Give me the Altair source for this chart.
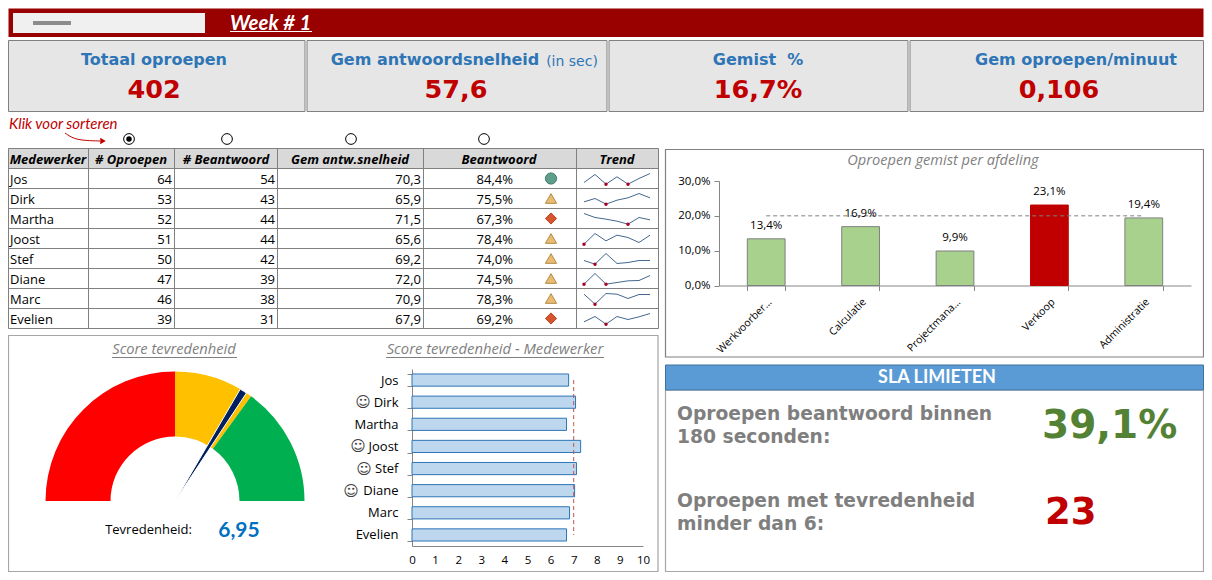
import math
import altair as alt
import pandas as pd

# ---------- data ----------
names = ["Jos", "Dirk", "Martha", "Joost", "Stef", "Diane", "Marc", "Evelien"]
calls = [64, 53, 52, 51, 50, 47, 46, 39]
answered = [54, 43, 44, 44, 42, 39, 38, 31]
speed = [70.3, 65.9, 71.5, 65.6, 69.2, 72.0, 70.9, 67.9]
answered_pct = [84.4, 75.5, 67.3, 78.4, 74.0, 74.5, 78.3, 69.2]
trend = [
    [18, 42, 13, 35, 13, 30, 45],
    [20, 30, 13, 25, 32, 45, 32],
    [45, 33, 28, 22, 13, 33, 26],
    [13, 45, 23, 40, 33, 18, 40],
    [24, 13, 45, 15, 18, 24, 24],
    [13, 45, 13, 18, 23, 24, 39],
    [43, 13, 45, 43, 30, 42, 42],
    [20, 36, 13, 36, 27, 35, 45],
]
scores = [6.78, 7.08, 6.69, 7.30, 7.12, 7.04, 6.82, 6.69]
score_target = 7
departments = ["Werkvoorber…", "Calculatie", "Projectmana…", "Verkoop", "Administratie"]
missed = [13.4, 16.9, 9.9, 23.1, 19.4]
missed_target = 20
gauge_names = ["laag", "midden", "hoog"]
gauge_from = [0, 5, 7]
gauge_to = [5, 7, 10]
needle_from = [6.68]
needle_to = [6.86]
kpi_titles = ["Totaal oproepen", "Gem antwoordsnelheid", "Gemist\u00a0\u00a0%", "Gem oproepen/minuut"]
kpi_values = ["402", "57,6", "16,7%", "0,106"]

# ---------- helpers (page pixels -> chart pixels) ----------
OX, OY = 8, 8
CH_W, CH_H = 1196, 564
LATO = "Lato"
BODY = "Open Sans"
HEAD = "DejaVu Sans"
layers = []


def add(c):
    layers.append(c)


def cx_(x):
    return min(max(x - OX, 0.5), CH_W - 0.5)


def cy_(y):
    return min(max(y - OY, 0.5), CH_H - 0.5)


def rect(x0, y0, x1, y1, fill="transparent", stroke=None, sw=1):
    kw = {"fill": fill}
    if stroke:
        kw.update(stroke=stroke, strokeWidth=sw)
    add(alt.Chart().mark_rect(**kw).encode(
        x=alt.value(cx_(x0)), x2=alt.value(cx_(x1)),
        y=alt.value(cy_(y0)), y2=alt.value(cy_(y1))))


def hline(x0, x1, y, color="#808080", sw=1):
    add(alt.Chart().mark_rule(color=color, strokeWidth=sw).encode(
        x=alt.value(cx_(x0)), x2=alt.value(cx_(x1)), y=alt.value(y - OY)))


def vline(x, y0, y1, color="#808080", sw=1):
    add(alt.Chart().mark_rule(color=color, strokeWidth=sw).encode(
        x=alt.value(cx_(x)), y=alt.value(y0 - OY), y2=alt.value(y1 - OY)))


def label(txt, x, y, size, color="#000000", font=BODY, weight="normal", style="normal", align="center"):
    add(alt.Chart().mark_text(font=font, fontSize=size, fontWeight=weight, fontStyle=style,
                              color=color, align=align, baseline="middle").encode(
        x=alt.value(x - OX), y=alt.value(y - OY), text=alt.value(txt)))


# ---------- header ----------
rect(5, 5, 1212, 37, fill="#990000")
rect(13, 13, 205, 33, fill="#f0f0f0")
rect(33, 21, 71, 25, fill="#8c8c8c")
label("Week # 1", 230, 23.5, 20.4, "#ffffff", font=LATO, weight="bold", style="italic", align="left")
hline(230, 312, 31.5, "#ffffff", 1.2)

# ---------- KPI tiles ----------
kpi_edges = [(5, 305), (307, 607), (609, 908), (910, 1209)]
kpi_cx = [154, 435, 758, 1076]
val_cx = [154, 456, 758, 1059]
for (a, b), t, v, cx, vx in zip(kpi_edges, kpi_titles, kpi_values, kpi_cx, val_cx):
    rect(a, 40.5, b, 111.5, fill="#e6e6e6", stroke="#808080", sw=1)
    label(t, cx, 60, 16, "#2e75b6", font=HEAD, weight="bold")
    label(v, vx, 90, 25.5, "#c00000", font=HEAD, weight="bold")
label("(in sec)", 572, 62, 14, "#2e75b6", font=HEAD)

# ---------- sort hint + radio buttons ----------
label("Klik voor sorteren", 9, 124, 15, "#c00000", font=LATO, style="italic", align="left")
arrow_t = [0, 0.25, 0.6, 1]
arrow_v = [0, 0.75, 0.95, 1]
add(alt.Chart(pd.DataFrame({"t": arrow_t, "v": arrow_v})).mark_line(
    color="#c00000", strokeWidth=1, interpolate="basis").encode(
    x=alt.X("t:Q", scale=alt.Scale(domain=[0, 1], range=[65 - OX, 100 - OX], nice=False, zero=False), axis=None),
    y=alt.Y("v:Q", scale=alt.Scale(domain=[0, 1], range=[133 - OY, 141 - OY], nice=False, zero=False), axis=None)))
add(alt.Chart().mark_point(shape="triangle-right", filled=True, opacity=1, size=40, color="#c00000").encode(
    x=alt.value(103 - OX), y=alt.value(141 - OY)))
for rx in [129, 227, 351, 484]:
    add(alt.Chart().mark_point(shape="circle", fill="#ffffff", stroke="#000000", strokeWidth=1,
                               opacity=1, size=115).encode(
        x=alt.value(rx - OX), y=alt.value(139 - OY)))
add(alt.Chart().mark_point(shape="circle", filled=True, color="#000000", opacity=1, size=30).encode(
    x=alt.value(129 - OX), y=alt.value(139 - OY)))

# ---------- table ----------
col_edges = [5, 88, 174, 277, 423, 576, 658]
row_top, row_h = 168.5, 20
rect(5, 148.5, 658, 168.5, fill="#d9d9d9")
for cx in col_edges:
    vline(cx + 0.5, 148.5, 328.5)
for i in range(10):
    hline(5, 658.5, 148.5 + (20 * i))
heads = [("Medewerker", 48), ("# Oproepen", 131), ("# Beantwoord", 226), ("Gem antw.snelheid", 350),
         ("Beantwoord", 499), ("Trend", 617)]
for h, cx in heads:
    label(h, cx, 159.5, 13, "#000000", weight="bold", style="italic")

status = ["goed" if p >= 80 else ("matig" if p >= 70 else "slecht") for p in answered_pct]
table = pd.DataFrame({
    "name": names,
    "calls": [str(v) for v in calls],
    "answered": [str(v) for v in answered],
    "speed": [f"{v:.1f}".replace(".", ",") for v in speed],
    "pct": [f"{v:.1f}%".replace(".", ",") for v in answered_pct],
    "status": status,
})
row_y = alt.Y("name:N", sort=None, axis=None,
              scale=alt.Scale(type="band", domain=names, range=[row_top - OY, row_top + 160 - OY],
                              paddingInner=0, paddingOuter=0))
for fld, xp, al in [("name", 10, "left"), ("calls", 172, "right"), ("answered", 275, "right"),
                    ("speed", 421, "right"), ("pct", 513, "right")]:
    add(alt.Chart(table).mark_text(font=BODY, fontSize=13, color="#000000", align=al, baseline="middle", dy=1).encode(
        x=alt.value(xp - OX), y=row_y, text=alt.Text(f"{fld}:N")))
add(alt.Chart(table).mark_point(filled=True, opacity=1, size=125, strokeWidth=1).encode(
    x=alt.value(551 - OX), y=row_y,
    shape=alt.Shape("status:N", legend=None,
                    scale=alt.Scale(domain=["goed", "matig", "slecht"], range=["circle", "triangle-up", "diamond"])),
    fill=alt.Fill("status:N", legend=None,
                  scale=alt.Scale(domain=["goed", "matig", "slecht"], range=["#5f9f8a", "#e9bb75", "#d6552e"])),
    stroke=alt.Stroke("status:N", legend=None,
                      scale=alt.Scale(domain=["goed", "matig", "slecht"], range=["#40786a", "#b08c40", "#b8451f"]))))

# sparklines, one y scale per row
for i, row in enumerate(trend):
    df = pd.DataFrame({"i": list(range(1, 8)), "v": row})
    sx = alt.X("i:Q", axis=None, scale=alt.Scale(domain=[1, 7], range=[584 - OX, 650 - OX], nice=False, zero=False))
    top = row_top + i * row_h
    sy = alt.Y("v:Q", axis=None, scale=alt.Scale(domain=[0, 60], range=[top + row_h - OY, top - OY], nice=False, zero=False))
    add(alt.Chart(df).mark_line(color="#44688e", strokeWidth=1).encode(x=sx, y=sy))
    low = df[df.v == df.v.min()]
    add(alt.Chart(low).mark_point(filled=True, opacity=1, color="#a50021", size=12).encode(x=sx, y=sy))

# ---------- missed calls per department ----------
rect(665.5, 149.5, 1206, 357, stroke="#808080", sw=1.2)
label("Oproepen gemist per afdeling", 943, 161, 14.6, "#7f7f7f", style="italic")
dept = pd.DataFrame({"dept": departments, "v": missed, "target": [missed_target] * 5,
                     "txt": [f"{v:.1f}%".replace(".", ",") for v in missed]})
DX0, DX1, DY0, DY1 = 719, 1191, 285.5, 181
dx = alt.Scale(type="band", domain=departments, range=[DX0 - OX, DX1 - OX], paddingInner=0.6, paddingOuter=0.3)
dy = alt.Scale(domain=[0, 30], range=[DY0 - OY, DY1 - OY], nice=False, zero=True)
add(alt.Chart(dept).mark_bar(strokeWidth=1).encode(
    x=alt.X("dept:N", sort=None, scale=dx, title=None,
            axis=alt.Axis(orient="bottom", offset=DY0 - OY - CH_H, labelAngle=-45, labelFont=BODY, labelFontSize=10.5,
                          labelColor="#000000", labelLimit=200, labelOverlap=False, labelBound=False, labelFlush=False,
                          tickBand="extent", domainColor="#868686", tickColor="#868686", grid=False, labelPadding=6)),
    y=alt.Y("v:Q", scale=dy, title=None,
            axis=alt.Axis(orient="left", offset=-(DX0 - OX), values=[0, 10, 20, 30], labelFont=BODY, labelFontSize=11.5,
                          labelColor="#000000", labelExpr="replace(format(datum.value,'.1f'),'.',',')+'%'",
                          domainColor="#868686", tickColor="#868686", grid=False, tickSize=5, labelPadding=4,
                          labelFlush=False, labelBound=False, labelOverlap=False)),
    fill=alt.condition(f"datum.v > {missed_target}", alt.value("#c00000"), alt.value("#a9d18e")),
    stroke=alt.condition(f"datum.v > {missed_target}", alt.value("#c00000"), alt.value("#7f7f7f"))))
add(alt.Chart(dept).mark_line(color="#7f7f7f", strokeWidth=1, strokeDash=[4, 3]).encode(
    x=alt.X("dept:N", sort=None, scale=dx, axis=None), y=alt.Y("target:Q", scale=dy, axis=None)))
add(alt.Chart(dept).mark_text(font=BODY, fontSize=11.5, color="#000000", dy=-13, baseline="middle").encode(
    x=alt.X("dept:N", sort=None, scale=dx, axis=None), y=alt.Y("v:Q", scale=dy, axis=None), text="txt:N"))

# ---------- SLA ----------
rect(665.5, 390, 1208.5, 573.5, stroke="#a6a6a6", sw=1.2)
rect(665.5, 365, 1208.5, 390, fill="#5b9bd5", stroke="#41719c", sw=1)
label("SLA LIMIETEN", 937, 378, 18, "#ffffff", font=LATO, weight="bold")
for txt, y in [("Oproepen beantwoord binnen", 414), ("180 seconden:", 437),
               ("Oproepen met tevredenheid", 501), ("minder dan 6:", 524)]:
    label(txt, 677, y, 18.7, "#7f7f7f", font=HEAD, weight="bold", align="left")
label("39,1%", 1042, 426, 39, "#548235", font=HEAD, weight="bold", align="left")
label("23", 1045, 513, 37, "#c00000", font=HEAD, weight="bold", align="left")

# ---------- satisfaction panel ----------
rect(5.5, 335.5, 658, 573.5, stroke="#a6a6a6", sw=1.2)
label("Score tevredenheid", 174, 350, 14.7, "#7f7f7f", style="italic")
hline(112, 237, 357.5, "#7f7f7f")
label("Score tevredenheid - Medewerker", 495, 350, 14.8, "#7f7f7f", style="italic")
hline(386, 604, 357.5, "#7f7f7f")

GCX, GCY = 175, 501
theta_scale = alt.Scale(domain=[0, 10], range=[1.5 * math.pi, 2.5 * math.pi], nice=False, zero=False)
gauge = pd.DataFrame({"band": gauge_names, "a": gauge_from, "b": gauge_to})
add(alt.Chart(gauge).mark_arc(radius=129.5, radius2=64.5).encode(
    x=alt.value(GCX - OX), y=alt.value(GCY - OY),
    theta=alt.Theta("a:Q", scale=theta_scale), theta2="b:Q",
    fill=alt.Fill("band:N", legend=None, scale=alt.Scale(domain=gauge_names, range=["#ff0000", "#ffc000", "#00b050"]))))
needle = pd.DataFrame({"a": needle_from, "b": needle_to})
add(alt.Chart(needle).mark_arc(radius=129.5, radius2=0, fill="#002060", stroke="#ffffff", strokeWidth=1).encode(
    x=alt.value(GCX - OX), y=alt.value(GCY - OY),
    theta=alt.Theta("a:Q", scale=theta_scale), theta2="b:Q"))
label("Tevredenheid:", 148.5, 530, 13, "#000000")
label("6,95", 239, 531, 21, "#0070c0", font=LATO, weight="bold")

# ---------- score per employee ----------
SX0, SX1, SY0, SY1 = 412, 643, 369, 546
sc = pd.DataFrame({"who": names, "v": scores, "target": [score_target] * 8})
syy = alt.Scale(type="band", domain=names, range=[SY0 - OY, SY1 - OY], paddingInner=0.45, paddingOuter=0.225)
sxx = alt.Scale(domain=[0, 10], range=[SX0 - OX, SX1 - OX], nice=False, zero=True)
add(alt.Chart(sc).mark_bar(fill="#bdd7ee", stroke="#2e75b6", strokeWidth=1).encode(
    x=alt.X("v:Q", scale=sxx, title=None,
            axis=alt.Axis(orient="bottom", offset=SY1 - OY - CH_H, values=list(range(11)), format="d",
                          ticks=False, grid=False, domainColor="#868686", labelFont=BODY, labelFontSize=11.5,
                          labelColor="#000000", labelPadding=8, labelFlush=False, labelBound=False, labelOverlap=False)),
    y=alt.Y("who:N", sort=None, scale=syy, title=None,
            axis=alt.Axis(orient="left", offset=-(SX0 - OX), tickBand="extent", grid=False, domainColor="#868686",
                          tickColor="#868686", tickSize=5, labelFont=BODY, labelFontSize=13, labelColor="#000000",
                          labelPadding=9, labelLimit=200, labelOverlap=False, labelBound=False, labelFlush=False))))
add(alt.Chart(sc).mark_line(color="#c0504d", strokeWidth=1, strokeDash=[4, 3]).encode(
    x=alt.X("target:Q", scale=sxx, axis=None), y=alt.Y("who:N", sort=None, scale=syy, axis=None)))
# smileys beside the names of employees at or above the target
smiley_x = {"Dirk": 363, "Joost": 358, "Stef": 364, "Diane": 351}
for who, xp in smiley_x.items():
    add(alt.Chart(sc[sc.who == who]).mark_text(text="☺", font=HEAD, fontSize=15, color="#404040", baseline="middle").encode(
        x=alt.value(xp - OX), y=alt.Y("who:N", sort=None, scale=syy, axis=None)))

chart = alt.layer(*layers).resolve_scale(
    x="independent", y="independent", theta="independent",
    fill="independent", stroke="independent", shape="independent",
).properties(width=CH_W, height=CH_H, padding=0, background="#ffffff",
             autosize=alt.AutoSizeParams(type="none")).configure_view(stroke=None)

chart.save("out.html", embed_options={"renderer": "svg", "actions": False})
